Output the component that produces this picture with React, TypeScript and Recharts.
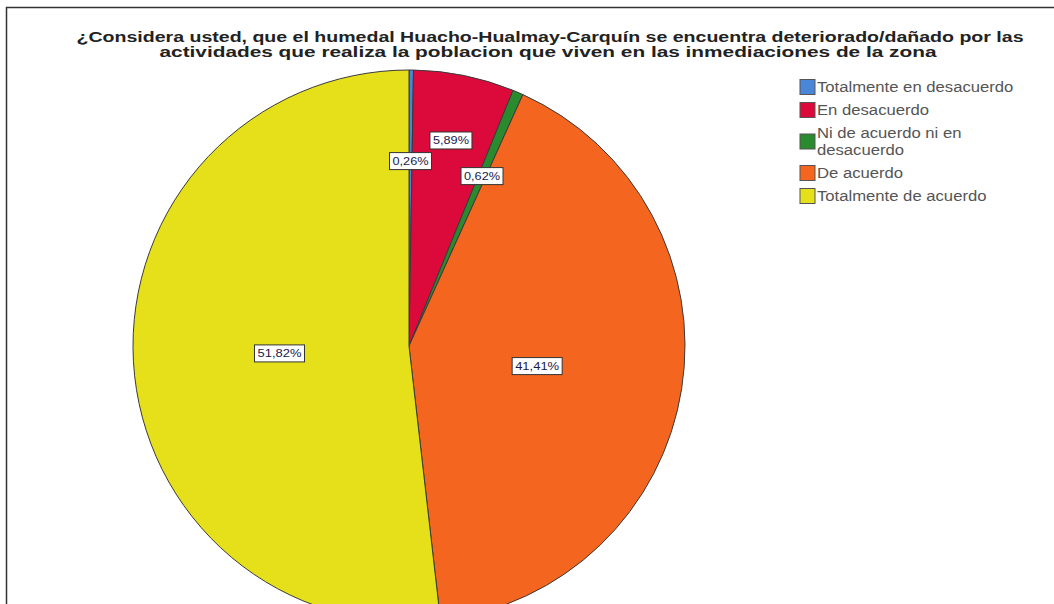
import React from 'react';
import { PieChart, Pie, Cell, Legend, Customized } from 'recharts';

const categories = [
  'Totalmente en desacuerdo',
  'En desacuerdo',
  'Ni de acuerdo ni en desacuerdo',
  'De acuerdo',
  'Totalmente de acuerdo',
];
const legendLines = [
  ['Totalmente en desacuerdo'],
  ['En desacuerdo'],
  ['Ni de acuerdo ni en', 'desacuerdo'],
  ['De acuerdo'],
  ['Totalmente de acuerdo'],
];
const percentages = [0.26, 5.89, 0.62, 41.41, 51.82];
const percentLabels = ['0,26%', '5,89%', '0,62%', '41,41%', '51,82%'];
const colors = ['#4A86D8', '#DC0A3A', '#2A8A2E', '#F4661F', '#E6E01A'];
const titleLines = [
  '¿Considera usted, que el humedal Huacho-Hualmay-Carquín se encuentra deteriorado/dañado por las',
  'actividades que realiza la poblacion que viven en las inmediaciones de la zona',
];

const data = categories.map((name, i) => ({ name, value: percentages[i] }));

const RADIAN = Math.PI / 180;

const renderLabel = (props: any) => {
  const { cx, cy, midAngle, outerRadius, percent, index } = props;
  const f = percent < 0.02 ? 0.67 : percent < 0.1 ? 0.76 : 0.47;
  const r = outerRadius * f;
  const x = cx + r * Math.cos(-midAngle * RADIAN);
  const y = cy + r * Math.sin(-midAngle * RADIAN);
  const text = percentLabels[index];
  const w = text.length * 8 + 2;
  const h = 17;
  return (
    <g>
      <rect x={x - w / 2} y={y - h / 2} width={w} height={h} fill="#ffffff" stroke="#333" strokeWidth={1} />
      <text
        x={x}
        y={y + 4}
        textAnchor="middle"
        fontFamily="Liberation Sans, Arial, sans-serif"
        fontSize={11}
        fill="#1a1a4a"
        textLength={w - 6}
        lengthAdjust="spacingAndGlyphs"
      >
        {text}
      </text>
    </g>
  );
};

const renderLegend = () => {
  let y = 0;
  const items: any[] = [];
  legendLines.forEach((lines, i) => {
    const top = y;
    const blockH = (lines.length - 1) * 17 + 23;
    items.push(
      <g key={i}>
        <rect x={1} y={top + blockH / 2 - 8} width={15} height={15} fill={colors[i]} stroke="#555" strokeWidth={1} />
        {lines.map((ln, j) => (
          <text
            key={j}
            transform={`translate(18, ${top + 16 + j * 17}) scale(1.15, 1)`}
            fontFamily="Liberation Sans, Arial, sans-serif"
            fontSize={14.5}
            fill="#555"
          >
            {ln}
          </text>
        ))}
      </g>
    );
    y += blockH;
  });
  return (
    <svg width={254} height={y + 4} style={{ display: 'block' }}>
      {items}
    </svg>
  );
};

const Frame = () => (
  <g>
    <line x1={6} y1={7.5} x2={1054} y2={7.5} stroke="#333" strokeWidth={1.5} />
    <line x1={6.5} y1={7} x2={6.5} y2={604} stroke="#333" strokeWidth={1.5} />
    <text
      x={550}
      y={42}
      textAnchor="middle"
      fontFamily="Liberation Sans, Arial, sans-serif"
      fontWeight="bold"
      fontSize={14}
      fill="#222"
      textLength={947}
      lengthAdjust="spacingAndGlyphs"
    >
      {titleLines[0]}
    </text>
    <text
      x={548}
      y={57}
      textAnchor="middle"
      fontFamily="Liberation Sans, Arial, sans-serif"
      fontWeight="bold"
      fontSize={14}
      fill="#222"
      textLength={777}
      lengthAdjust="spacingAndGlyphs"
    >
      {titleLines[1]}
    </text>
  </g>
);

export default function App() {
  return (
    <div style={{ position: 'fixed', left: 0, top: 0, width: 1054, height: 604, overflow: 'hidden', background: '#fff' }}>
      <PieChart width={1054} height={604} margin={{ top: 0, right: 0, bottom: 0, left: 0 }}>
        <Customized component={Frame} />
        <Pie
          data={data}
          dataKey="value"
          nameKey="name"
          cx={409}
          cy={346}
          outerRadius={276}
          startAngle={90}
          endAngle={-270}
          stroke="#3a3a3a"
          strokeWidth={1}
          label={renderLabel}
          labelLine={false}
          isAnimationActive={false}
        >
          {data.map((d, i) => (
            <Cell key={d.name} fill={colors[i]} />
          ))}
        </Pie>
        <Legend
          content={renderLegend}
          wrapperStyle={{ position: 'absolute', left: 799, top: 76, width: 254 }}
        />
      </PieChart>
    </div>
  );
}
